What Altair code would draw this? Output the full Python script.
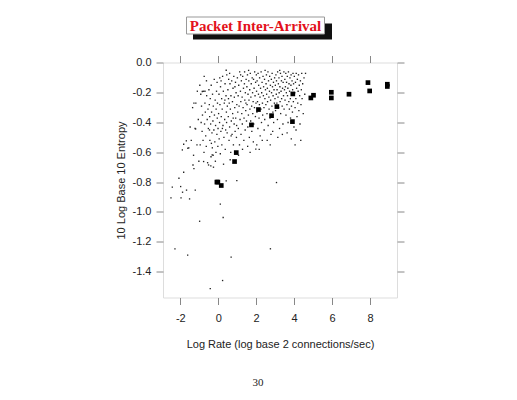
import altair as alt
import pandas as pd

# ---- data ----
dots = [
    # sparse outliers / lower left
    (-2.42,-0.834),(-1.98,-0.830),(-1.88,-0.868),(-1.67,-0.854),(-1.21,-0.854),(-2.49,-0.906),
    (-1.96,-0.906),(-1.51,-0.913),(0.11,-0.948),(0.26,-1.038),(-0.98,-1.063),(-2.28,-1.248),
    (2.75,-1.248),(-1.61,-1.29),(0.68,-1.304),(0.23,-1.461),(-0.42,-1.515),(0.98,-0.79),
    (3.07,-0.803),(-1.82,-0.734),(-2.07,-0.774),(-1.33,-0.685),(-1.68,-0.523),(-1.82,-0.546),
    (-1.89,-0.584),(-1.60,-0.573),(-1.19,-0.443),(-0.77,-0.662),(-0.51,-0.685),(-0.39,-0.691),
    (-0.32,-0.617),(0.42,-0.792),(1.98,-0.579),(-1.28,-0.27),(-0.84,-0.192),(-0.70,-0.19),
    (0.42,-0.049),(0.60,-0.07),
    # x -1.6 .. -1.0
    (-1.55,-0.57),(-1.48,-0.43),(-1.42,-0.52),(-1.35,-0.30),(-1.30,-0.62),(-1.22,-0.44),
    (-1.18,-0.27),(-1.12,-0.55),(-1.05,-0.38),(-1.02,-0.66),(-1.28,-0.71),(-1.10,-0.19),
    # x -1.0 .. -0.5
    (-0.97,-0.15),(-0.92,-0.21),(-0.88,-0.29),(-0.85,-0.46),(-0.83,-0.35),(-0.80,-0.52),
    (-0.78,-0.19),(-0.75,-0.60),(-0.72,-0.41),(-0.70,-0.27),(-0.68,-0.33),(-0.66,-0.49),
    (-0.63,-0.56),(-0.61,-0.22),(-0.58,-0.38),(-0.56,-0.67),(-0.54,-0.31),(-0.52,-0.44),
    (-0.95,-0.55),(-0.90,-0.40),(-0.62,-0.12),(-0.74,-0.09),
    # x -0.5 .. 0
    (-0.49,-0.18),(-0.47,-0.28),(-0.45,-0.36),(-0.44,-0.52),(-0.42,-0.24),(-0.40,-0.41),
    (-0.38,-0.63),(-0.37,-0.15),(-0.35,-0.33),(-0.33,-0.47),(-0.31,-0.57),(-0.30,-0.21),
    (-0.28,-0.39),(-0.26,-0.29),(-0.25,-0.70),(-0.23,-0.45),(-0.21,-0.11),(-0.20,-0.35),
    (-0.18,-0.53),(-0.16,-0.25),(-0.14,-0.42),(-0.12,-0.60),(-0.11,-0.31),(-0.09,-0.19),
    (-0.07,-0.48),(-0.05,-0.37),(-0.04,-0.27),(-0.02,-0.56),(-0.01,-0.44),(-0.46,-0.45),
    (-0.36,-0.54),(-0.27,-0.62),(-0.15,-0.66),(-0.06,-0.13),
    # x 0 .. 0.5
    (0.02,-0.34),(0.04,-0.21),(0.05,-0.51),(0.07,-0.40),(0.09,-0.28),(0.11,-0.61),
    (0.12,-0.16),(0.14,-0.46),(0.16,-0.36),(0.18,-0.24),(0.19,-0.55),(0.21,-0.31),
    (0.23,-0.09),(0.25,-0.42),(0.27,-0.19),(0.28,-0.68),(0.30,-0.50),(0.32,-0.27),
    (0.34,-0.38),(0.36,-0.14),(0.37,-0.58),(0.39,-0.45),(0.41,-0.22),(0.43,-0.33),
    (0.45,-0.08),(0.47,-0.47),(0.48,-0.29),(0.08,-0.10),(0.22,-0.44),(0.35,-0.25),
    (0.44,-0.40),(0.15,-0.12),
    # x 0.5 .. 1.0
    (0.51,-0.18),(0.53,-0.36),(0.55,-0.11),(0.57,-0.52),(0.58,-0.27),(0.60,-0.43),
    (0.62,-0.14),(0.64,-0.31),(0.66,-0.60),(0.67,-0.22),(0.69,-0.39),(0.71,-0.12),
    (0.73,-0.48),(0.75,-0.26),(0.76,-0.34),(0.78,-0.17),(0.80,-0.55),(0.82,-0.09),
    (0.84,-0.41),(0.85,-0.23),(0.87,-0.30),(0.89,-0.46),(0.91,-0.13),(0.92,-0.37),
    (0.94,-0.20),(0.96,-0.50),(0.98,-0.28),(0.54,-0.24),(0.68,-0.49),(0.79,-0.37),
    (0.88,-0.16),(0.97,-0.42),(0.63,-0.65),
    # x 1.0 .. 1.5
    (1.01,-0.10),(1.03,-0.33),(1.05,-0.22),(1.06,-0.44),(1.08,-0.15),(1.10,-0.29),
    (1.12,-0.55),(1.13,-0.06),(1.15,-0.38),(1.17,-0.19),(1.19,-0.26),(1.20,-0.48),
    (1.22,-0.12),(1.24,-0.34),(1.26,-0.23),(1.27,-0.41),(1.29,-0.09),(1.31,-0.30),
    (1.33,-0.17),(1.35,-0.52),(1.36,-0.37),(1.38,-0.14),(1.40,-0.25),(1.42,-0.45),
    (1.43,-0.20),(1.45,-0.32),(1.47,-0.11),(1.49,-0.39),(1.07,-0.62),(1.18,-0.08),
    (1.28,-0.58),(1.39,-0.06),(1.46,-0.27),
    # x 1.5 .. 2.0
    (1.51,-0.16),(1.52,-0.28),(1.54,-0.08),(1.56,-0.43),(1.57,-0.21),(1.59,-0.35),
    (1.61,-0.12),(1.62,-0.25),(1.64,-0.50),(1.66,-0.18),(1.67,-0.31),(1.69,-0.07),
    (1.71,-0.39),(1.72,-0.23),(1.74,-0.14),(1.76,-0.29),(1.77,-0.46),(1.79,-0.10),
    (1.81,-0.20),(1.82,-0.34),(1.84,-0.26),(1.86,-0.11),(1.87,-0.41),(1.89,-0.17),
    (1.91,-0.30),(1.92,-0.06),(1.94,-0.22),(1.96,-0.36),(1.97,-0.13),(1.99,-0.27),
    (1.55,-0.56),(1.68,-0.60),(1.85,-0.53),(1.60,-0.05),
    # x 2.0 .. 2.5
    (2.01,-0.08),(2.02,-0.19),(2.04,-0.33),(2.05,-0.12),(2.07,-0.26),(2.09,-0.44),
    (2.10,-0.07),(2.12,-0.21),(2.13,-0.15),(2.15,-0.37),(2.17,-0.28),(2.18,-0.10),
    (2.20,-0.23),(2.21,-0.49),(2.23,-0.17),(2.25,-0.31),(2.26,-0.06),(2.28,-0.40),
    (2.29,-0.20),(2.31,-0.13),(2.33,-0.27),(2.34,-0.35),(2.36,-0.09),(2.38,-0.22),
    (2.39,-0.16),(2.41,-0.30),(2.42,-0.45),(2.44,-0.11),(2.46,-0.24),(2.47,-0.05),
    (2.49,-0.18),(2.03,-0.55),(2.16,-0.58),(2.32,-0.52),(2.45,-0.38),
    # x 2.5 .. 3.0
    (2.51,-0.28),(2.52,-0.14),(2.54,-0.08),(2.55,-0.21),(2.57,-0.34),(2.59,-0.17),
    (2.60,-0.26),(2.62,-0.06),(2.63,-0.42),(2.65,-0.12),(2.67,-0.23),(2.68,-0.31),
    (2.70,-0.19),(2.71,-0.09),(2.73,-0.37),(2.75,-0.15),(2.76,-0.25),(2.78,-0.48),
    (2.80,-0.11),(2.81,-0.20),(2.83,-0.29),(2.84,-0.07),(2.86,-0.16),(2.88,-0.33),
    (2.89,-0.22),(2.91,-0.13),(2.92,-0.40),(2.94,-0.18),(2.96,-0.27),(2.97,-0.10),
    (2.99,-0.24),(2.58,-0.52),(2.74,-0.55),(2.87,-0.46),
    # x 3.0 .. 3.5
    (3.01,-0.15),(3.02,-0.32),(3.04,-0.08),(3.06,-0.21),(3.07,-0.12),(3.09,-0.27),
    (3.10,-0.18),(3.12,-0.38),(3.13,-0.06),(3.15,-0.23),(3.17,-0.14),(3.18,-0.30),
    (3.20,-0.10),(3.21,-0.20),(3.23,-0.44),(3.25,-0.16),(3.26,-0.26),(3.28,-0.07),
    (3.29,-0.34),(3.31,-0.19),(3.33,-0.12),(3.34,-0.24),(3.36,-0.09),(3.37,-0.29),
    (3.39,-0.17),(3.41,-0.41),(3.42,-0.13),(3.44,-0.22),(3.46,-0.06),(3.47,-0.31),
    (3.49,-0.18),(3.14,-0.50),(3.38,-0.48),(3.24,-0.05),
    # x 3.5 .. 4.0
    (3.51,-0.11),(3.52,-0.25),(3.54,-0.16),(3.56,-0.07),(3.57,-0.35),(3.59,-0.20),
    (3.60,-0.13),(3.62,-0.28),(3.64,-0.09),(3.65,-0.22),(3.67,-0.17),(3.68,-0.40),
    (3.70,-0.06),(3.72,-0.26),(3.73,-0.14),(3.75,-0.31),(3.76,-0.19),(3.78,-0.10),
    (3.80,-0.24),(3.81,-0.37),(3.83,-0.15),(3.84,-0.08),(3.86,-0.29),(3.88,-0.21),
    (3.89,-0.12),(3.91,-0.33),(3.92,-0.18),(3.94,-0.07),(3.96,-0.26),(3.97,-0.14),
    (3.99,-0.43),(3.63,-0.47),(3.85,-0.51),
    # x 4.0 .. 4.6
    (4.01,-0.09),(4.03,-0.20),(4.05,-0.30),(4.07,-0.13),(4.09,-0.24),(4.11,-0.07),
    (4.13,-0.17),(4.15,-0.36),(4.17,-0.11),(4.19,-0.27),(4.21,-0.19),(4.23,-0.08),
    (4.25,-0.32),(4.27,-0.15),(4.29,-0.22),(4.31,-0.41),(4.33,-0.12),(4.36,-0.28),
    (4.38,-0.18),(4.40,-0.07),(4.42,-0.24),(4.45,-0.14),(4.48,-0.34),(4.52,-0.10),
    (4.56,-0.21),(4.10,-0.45),(4.35,-0.52),(4.60,-0.07),(4.05,-0.55),
]
dot_x = [p[0] for p in dots]
dot_y = [p[1] for p in dots]

sq_x = [-0.07, -0.02, 0.16, 0.86, 0.95, 1.75, 2.12, 2.81, 3.09, 3.91, 3.93,
        4.88, 5.02, 5.96, 5.96, 6.89, 7.89, 7.98, 8.91, 8.91]
sq_y = [-0.800, -0.800, -0.823, -0.662, -0.602, -0.416, -0.313, -0.354, -0.293, -0.394, -0.208,
        -0.235, -0.217, -0.197, -0.235, -0.210, -0.132, -0.188, -0.143, -0.158]

x_ticks = [-2, 0, 2, 4, 6, 8]
y_ticks = [0.0, -0.2, -0.4, -0.6, -0.8, -1.0, -1.2, -1.4]
title_text = "Packet Inter-Arrival"
page_text = "30"

dots_df = pd.DataFrame({"x": dot_x, "y": dot_y})
sq_df = pd.DataFrame({"x": sq_x, "y": sq_y})
one = pd.DataFrame({"t": [title_text], "p": [page_text]})

xs = alt.Scale(domain=[-2.91, 9.42], nice=False, zero=False)
ys = alt.Scale(domain=[-1.575, 0.003], nice=False, zero=False)

MINUS = "\u2212"
lab = dict(labelFont="Liberation Sans", labelFontSize=11, labelColor="#222",
           titleFont="Liberation Sans", titleFontSize=11, titleColor="#222",
           titleFontWeight="normal", tickColor="#888", tickSize=7, domain=False,
           grid=False)

dots_layer = alt.Chart(dots_df).mark_square(size=1.8, color="#222", opacity=1).encode(
    x=alt.X("x:Q", scale=xs, axis=alt.Axis(values=x_ticks, orient="bottom",
            title="Log Rate (log base 2 connections/sec)", labelPadding=8,
            titlePadding=15,
            labelExpr="replace(format(datum.value, 'd'), '" + MINUS + "', '-')", **lab)),
    y=alt.Y("y:Q", scale=ys, axis=alt.Axis(values=y_ticks, orient="left",
            title="10 Log Base 10 Entropy", labelPadding=5, titlePadding=6,
            labelExpr="replace(format(datum.value, '.1f'), '" + MINUS + "', '-')", **lab)),
)

sq_layer = alt.Chart(sq_df).mark_square(size=22, color="black", opacity=1).encode(
    x=alt.X("x:Q", scale=xs, axis=None),
    y=alt.Y("y:Q", scale=ys, axis=None),
)

ghost = alt.Chart(sq_df).mark_point(opacity=0).encode(
    x=alt.X("x:Q", scale=xs, axis=alt.Axis(values=x_ticks, orient="top", labels=False,
            title=None, tickColor="#888", tickSize=7, domain=False, grid=False)),
    y=alt.Y("y:Q", scale=ys, axis=alt.Axis(values=y_ticks, orient="right", labels=False,
            title=None, tickColor="#888", tickSize=7, domain=False, grid=False)),
)

shadow = alt.Chart(one).mark_rect(color="#111").encode(
    x=alt.value(30), x2=alt.value(169), y=alt.value(-39), y2=alt.value(-23))
box = alt.Chart(one).mark_rect(fill="white", stroke="#999", strokeWidth=1).encode(
    x=alt.value(23.5), x2=alt.value(161.5), y=alt.value(-45.5), y2=alt.value(-28.5))
title = alt.Chart(one).mark_text(font="Liberation Serif", fontWeight="bold", fontSize=15,
                                 color="#e3121b", baseline="middle", align="center").encode(
    x=alt.value(92.5), y=alt.value(-36.5), text="t:N")
page = alt.Chart(one).mark_text(font="Liberation Serif", fontSize=11, color="#222",
                                baseline="middle", align="center").encode(
    x=alt.value(95), y=alt.value(320), text="p:N")

chart = alt.layer(dots_layer, sq_layer, ghost, shadow, box, title, page).resolve_axis(
    x="independent", y="independent"
).properties(
    width=234, height=235, autosize="none",
    padding={"left": 155, "top": 54.5, "right": 112, "bottom": 93},
).configure_view(stroke="#888", strokeWidth=1).configure(background="white")

chart.save("out.html", embed_options={"renderer": "svg", "actions": False})
